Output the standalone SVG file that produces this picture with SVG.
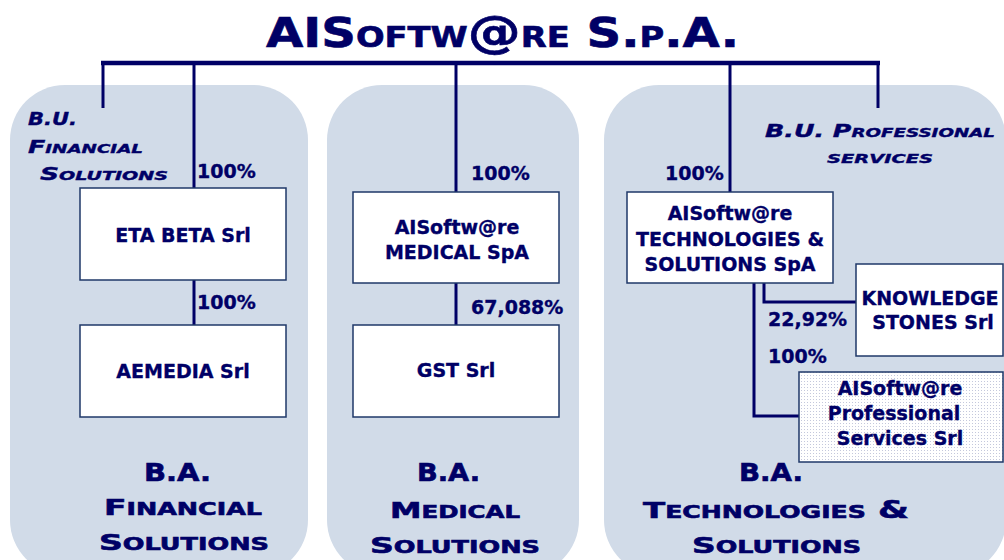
<svg xmlns="http://www.w3.org/2000/svg" width="1004" height="560" viewBox="0 0 1004 560">
<defs>
<pattern id="dots" width="3" height="3" patternUnits="userSpaceOnUse">
<rect width="3" height="3" fill="#ffffff"/>
<rect width="1" height="1" fill="#c4c8dc"/>
</pattern>
<style>
.panel{fill:#d1dbe8;}
.box{fill:#ffffff;stroke:#1f3868;stroke-width:1.5;}
.t{font-family:"DejaVu Sans","Verdana",sans-serif;font-weight:bold;font-size:19px;fill:#000066;stroke:#000066;stroke-width:0.35;}
.c{text-anchor:middle;}
.bu{font-family:"DejaVu Sans",sans-serif;font-weight:bold;font-style:italic;font-size:18px;fill:#000066;stroke:#000066;stroke-width:0.4;font-variant:small-caps;}
.ba{font-family:"DejaVu Sans",sans-serif;font-weight:bold;font-size:24px;fill:#000066;stroke:#000066;stroke-width:0.6;font-variant:small-caps;}
.title{font-family:"DejaVu Sans",sans-serif;font-weight:bold;font-size:40px;fill:#000066;stroke:#000066;stroke-width:0.6;font-variant:small-caps;}
.ln{stroke:#000066;stroke-width:3;fill:none;}
</style>
</defs>
<rect width="1004" height="560" fill="#ffffff"/>
<g id="panels">
<rect class="panel" x="10" y="85" width="298" height="490" rx="55" ry="55"/>
<rect class="panel" x="327" y="85" width="252" height="490" rx="55" ry="55"/>
<rect class="panel" x="604" y="85" width="402" height="490" rx="55" ry="55"/>
</g>
<g id="title">
<text class="title" x="266" y="47" textLength="473" lengthAdjust="spacingAndGlyphs">AIS<tspan font-size="40">oftw</tspan><tspan font-size="44" font-variant="normal">@</tspan><tspan font-size="40">re</tspan> S.<tspan font-size="40">p</tspan>.A.</text>
</g>
<g id="connectors">
<line x1="101" y1="63" x2="880" y2="63" stroke="#000066" stroke-width="4.5"/>
<line class="ln" x1="103" y1="63" x2="103" y2="108"/>
<line class="ln" x1="194" y1="63" x2="194" y2="188"/>
<line class="ln" x1="456" y1="63" x2="456" y2="192"/>
<line class="ln" x1="730" y1="63" x2="730" y2="192"/>
<line class="ln" x1="878" y1="63" x2="878" y2="108"/>
<line class="ln" x1="194" y1="280" x2="194" y2="325"/>
<line class="ln" x1="456" y1="283" x2="456" y2="325"/>
<polyline class="ln" points="764,283 764,302 856,302"/>
<polyline class="ln" points="754,283 754,416 799,416"/>
</g>
<g id="bu-financial">
<text class="bu" x="28" y="125" textLength="49" lengthAdjust="spacingAndGlyphs">B.U.</text>
<text class="bu" x="28" y="153" textLength="115" lengthAdjust="spacingAndGlyphs">Financial</text>
<text class="bu" x="40" y="180" textLength="128" lengthAdjust="spacingAndGlyphs">Solutions</text>
</g>
<g id="bu-professional">
<text class="bu" x="765" y="137" textLength="230" lengthAdjust="spacingAndGlyphs">B.U. Professional</text>
<text class="bu" x="827" y="163" textLength="106" lengthAdjust="spacingAndGlyphs">services</text>
</g>
<g id="n-etabeta">
<rect class="box" x="80" y="188" width="206" height="92"/>
<text class="t c" x="183" y="242">ETA BETA Srl</text>
<text class="t" x="197" y="178">100%</text>
</g>
<g id="n-aemedia">
<rect class="box" x="80" y="325" width="206" height="92"/>
<text class="t c" x="183" y="378">AEMEDIA Srl</text>
<text class="t" x="197" y="309">100%</text>
</g>
<g id="n-medical">
<rect class="box" x="353" y="192" width="206" height="91"/>
<text class="t c" x="457" y="234">AISoftw@re</text>
<text class="t c" x="457" y="259">MEDICAL SpA</text>
<text class="t" x="471" y="180">100%</text>
</g>
<g id="n-gst">
<rect class="box" x="353" y="325" width="206" height="92"/>
<text class="t c" x="456" y="377">GST Srl</text>
<text class="t" x="471" y="314">67,088%</text>
</g>
<g id="n-tech">
<rect class="box" x="627" y="192" width="206" height="91"/>
<text class="t c" x="730" y="220">AISoftw@re</text>
<text class="t c" x="730" y="246">TECHNOLOGIES &amp;</text>
<text class="t c" x="730" y="271">SOLUTIONS SpA</text>
<text class="t" x="665" y="180">100%</text>
</g>
<g id="n-knowledge">
<rect class="box" x="856" y="264" width="147" height="92"/>
<text class="t c" x="930" y="305">KNOWLEDGE</text>
<text class="t c" x="933" y="329">STONES Srl</text>
<text class="t" x="768" y="326">22,92%</text>
</g>
<g id="n-profservices">
<rect x="799" y="372" width="204" height="90" fill="url(#dots)" stroke="#1f3868" stroke-width="1.5"/>
<text class="t c" x="900" y="395">AISoftw@re</text>
<text class="t c" x="894" y="420">Professional</text>
<text class="t c" x="900" y="445">Services Srl</text>
<text class="t" x="768" y="363">100%</text>
</g>
<g id="ba-financial">
<text class="ba" x="144" y="481" font-size="26" textLength="67" lengthAdjust="spacingAndGlyphs">B.A.</text>
<text class="ba" x="104" y="515" textLength="158" lengthAdjust="spacingAndGlyphs"><tspan font-size="22">F</tspan>inancial</text>
<text class="ba" x="99" y="550" textLength="170" lengthAdjust="spacingAndGlyphs"><tspan font-size="22">S</tspan>olutions</text>
</g>
<g id="ba-medical">
<text class="ba" x="417" y="481" font-size="26" textLength="63" lengthAdjust="spacingAndGlyphs">B.A.</text>
<text class="ba" x="390" y="518" textLength="130" lengthAdjust="spacingAndGlyphs"><tspan font-size="22">M</tspan>edical</text>
<text class="ba" x="370" y="553" textLength="170" lengthAdjust="spacingAndGlyphs"><tspan font-size="22">S</tspan>olutions</text>
</g>
<g id="ba-tech">
<text class="ba" x="739" y="481" font-size="26" textLength="64" lengthAdjust="spacingAndGlyphs">B.A.</text>
<text class="ba" x="643" y="518" textLength="266" lengthAdjust="spacingAndGlyphs"><tspan font-size="22">T</tspan>echnologies &amp;</text>
<text class="ba" x="692" y="553" textLength="169" lengthAdjust="spacingAndGlyphs"><tspan font-size="22">S</tspan>olutions</text>
</g>
</svg>
